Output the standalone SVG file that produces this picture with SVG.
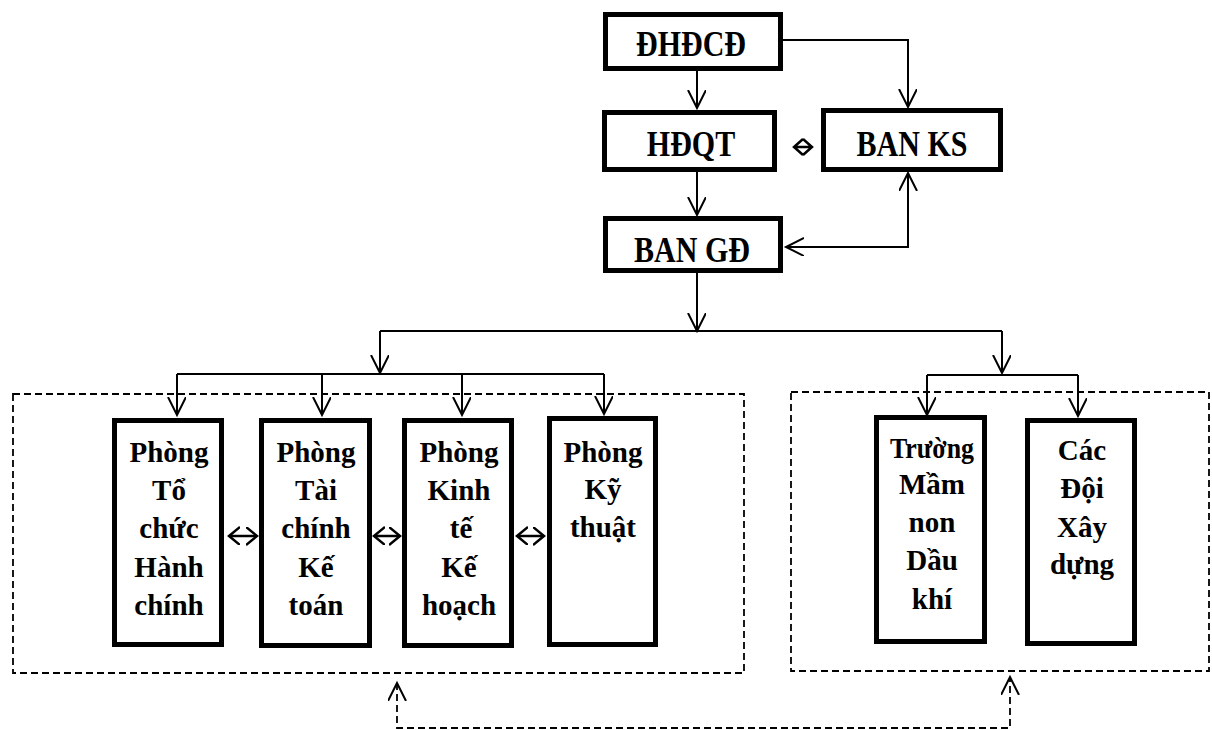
<svg xmlns="http://www.w3.org/2000/svg" width="1212" height="730" viewBox="0 0 1212 730">
<style>
.box{fill:#fff;stroke:#000;stroke-width:5}
.grp{fill:none;stroke:#000;stroke-width:1.8;stroke-dasharray:7 4}
.ln{fill:none;stroke:#000;stroke-width:2}
.dbl{fill:none;stroke:#000;stroke-width:2.5}
.dl{fill:none;stroke:#000;stroke-width:1.8;stroke-dasharray:7 4}
.t1{font-family:"Liberation Serif","Times New Roman",serif;font-weight:bold;font-size:30px;text-anchor:middle;fill:#000}
.t2{font-family:"Liberation Serif","Times New Roman",serif;font-weight:bold;font-size:29px;text-anchor:middle;fill:#000}
</style>
<defs>
<marker id="arr" markerUnits="userSpaceOnUse" markerWidth="22" markerHeight="22" refX="18" refY="9" orient="auto-start-reverse">
<path d="M0,0 L18,9 L0,18" fill="none" stroke="#000" stroke-width="2"/>
</marker>
<marker id="sarr" markerUnits="userSpaceOnUse" markerWidth="16" markerHeight="20" refX="11" refY="9" orient="auto-start-reverse">
<path d="M0,0 L11,9 L0,18" fill="none" stroke="#000" stroke-width="2.5"/>
</marker>
</defs>
<rect width="1212" height="730" fill="#fff"/>

<g id="group-left"><rect class="grp" x="13" y="394" width="731" height="279"/></g>
<g id="group-right"><rect class="grp" x="791" y="392" width="418" height="279"/></g>

<g id="connectors">
<path class="ln" d="M697,71 V108" marker-end="url(#arr)"/>
<path class="ln" d="M783,40 H908 V107" marker-end="url(#arr)"/>
<path class="ln" d="M697,172 V215" marker-end="url(#arr)"/>
<path class="ln" d="M786,247 H908 V173" marker-start="url(#arr)" marker-end="url(#arr)"/>
<path class="ln" d="M697,273 V331"  marker-end="url(#arr)"/>
<path class="ln" d="M380,331 H1002"/>
<path class="ln" d="M380,331 V373" marker-end="url(#arr)"/>
<path class="ln" d="M177,374 H604"/>
<path class="ln" d="M177,374 V415" marker-end="url(#arr)"/>
<path class="ln" d="M322,374 V415" marker-end="url(#arr)"/>
<path class="ln" d="M462,374 V415" marker-end="url(#arr)"/>
<path class="ln" d="M604,374 V414" marker-end="url(#arr)"/>
<path class="ln" d="M1002,331 V373" marker-end="url(#arr)"/>
<path class="ln" d="M927,375 H1078"/>
<path class="ln" d="M927,375 V415" marker-end="url(#arr)"/>
<path class="ln" d="M1078,375 V416" marker-end="url(#arr)"/>
<path class="dbl" d="M229,536 H257" marker-start="url(#sarr)" marker-end="url(#sarr)"/>
<path class="dbl" d="M374,536 H400" marker-start="url(#sarr)" marker-end="url(#sarr)"/>
<path class="dbl" d="M517,536 H544" marker-start="url(#sarr)" marker-end="url(#sarr)"/>
<path class="dbl" d="M794,147 H812 M803,139 L794,147 L803,155 M803,139 L812,147 L803,155"/>
<path class="dl" d="M397,683 V728 H1010 V677" marker-start="url(#arr)" marker-end="url(#arr)"/>
</g>

<g id="dhdcd"><rect class="box" x="605.5" y="14.5" width="175" height="54"/>
<text class="t1" transform="translate(691,56) scale(1,1.2)">ĐHĐCĐ</text></g>
<g id="hdqt"><rect class="box" x="604.5" y="112.5" width="170" height="57"/>
<text class="t1" transform="translate(691,156) scale(1,1.2)">HĐQT</text></g>
<g id="banks"><rect class="box" x="823.5" y="110.5" width="177" height="59"/>
<text class="t1" transform="translate(912,156) scale(1,1.2)">BAN KS</text></g>
<g id="bangd"><rect class="box" x="605.5" y="218.5" width="175" height="52"/>
<text class="t1" transform="translate(692,262) scale(1,1.2)">BAN GĐ</text></g>

<g id="phong-tchc"><rect class="box" x="114.5" y="420.5" width="107" height="224"/>
<text class="t2"><tspan x="169" y="462">Phòng</tspan><tspan x="169" y="500">Tổ</tspan><tspan x="169" y="538">chức</tspan><tspan x="169" y="577">Hành</tspan><tspan x="169" y="615">chính</tspan></text></g>
<g id="phong-tckt"><rect class="box" x="261.5" y="420.5" width="108" height="225"/>
<text class="t2"><tspan x="316" y="462">Phòng</tspan><tspan x="316" y="500">Tài</tspan><tspan x="316" y="538">chính</tspan><tspan x="316" y="577">Kế</tspan><tspan x="316" y="615">toán</tspan></text></g>
<g id="phong-ktkh"><rect class="box" x="404.5" y="420.5" width="107" height="225"/>
<text class="t2"><tspan x="459" y="462">Phòng</tspan><tspan x="459" y="500">Kinh</tspan><tspan x="461" y="538">tế</tspan><tspan x="459" y="577">Kế</tspan><tspan x="459" y="615">hoạch</tspan></text></g>
<g id="phong-kt"><rect class="box" x="549.5" y="418.5" width="106" height="226"/>
<text class="t2"><tspan x="603" y="462">Phòng</tspan><tspan x="603" y="499">Kỹ</tspan><tspan x="603" y="537">thuật</tspan></text></g>

<g id="truong-mn"><rect class="box" x="876.5" y="417.5" width="108" height="224"/>
<text class="t2"><tspan x="932" y="458" textLength="84" lengthAdjust="spacingAndGlyphs">Trường</tspan><tspan x="932" y="494">Mầm</tspan><tspan x="932" y="532">non</tspan><tspan x="932" y="570">Dầu</tspan><tspan x="932" y="609">khí</tspan></text></g>
<g id="cac-doi"><rect class="box" x="1027.5" y="420.5" width="107" height="223"/>
<text class="t2"><tspan x="1082" y="460">Các</tspan><tspan x="1082" y="498">Đội</tspan><tspan x="1082" y="537">Xây</tspan><tspan x="1082" y="574">dựng</tspan></text></g>
</svg>
